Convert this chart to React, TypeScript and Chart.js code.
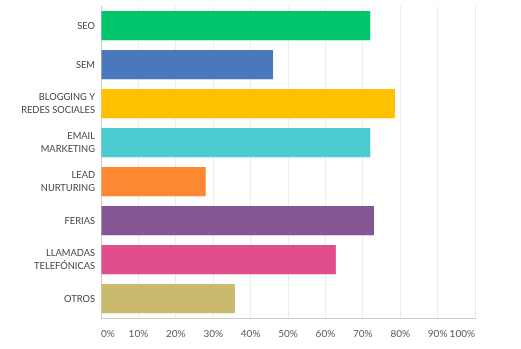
import React, { useEffect, useRef } from "react";
import { Chart, registerables } from "chart.js";

Chart.register(...registerables);

const categories: (string | string[])[] = [
  "SEO",
  "SEM",
  ["BLOGGING Y", "REDES SOCIALES"],
  ["EMAIL", "MARKETING"],
  ["LEAD", "NURTURING"],
  "FERIAS",
  ["LLAMADAS", "TELEFÓNICAS"],
  "OTROS",
];
const values = [72, 46, 78.6, 72, 28, 73, 62.8, 35.8];
const colors = ["#00c66b", "#4a78bc", "#ffc000", "#4ccbd0", "#ff8833", "#855694", "#e04e8c", "#c9ba6e"];
const xTicks = [0, 10, 20, 30, 40, 50, 60, 70, 80, 90, 100];

export default function App() {
  const ref = useRef<HTMLCanvasElement>(null);
  useEffect(() => {
    if (!ref.current) return;
    const chart = new Chart(ref.current, {
      type: "bar",
      data: {
        labels: categories,
        datasets: [
          {
            data: values,
            backgroundColor: colors,
            borderWidth: 0,
            categoryPercentage: 1,
            barPercentage: 0.75,
          },
        ],
      },
      options: {
        indexAxis: "y",
        animation: false,
        responsive: false,
        maintainAspectRatio: false,
        layout: { padding: { top: 6, right: 46, bottom: 0, left: 0 } },
        plugins: { legend: { display: false }, tooltip: { enabled: false } },
        scales: {
          x: {
            min: 0,
            max: 100,
            afterBuildTicks: (s: any) => {
              s.ticks = xTicks.map((v) => ({ value: v }));
            },
            afterFit: (s: any) => {
              s.height = 31;
            },
            grid: { color: "#ececec", drawTicks: false, lineWidth: 1 },
            border: { display: true, color: "#cccccc" },
            ticks: {
              align: "inner",
              padding: 10,
              color: "#555a60",
              font: { family: "Lato", size: 10 },
              callback: (v: any) => v + "%",
              maxRotation: 0,
              autoSkip: false,
            },
          },
          y: {
            afterFit: (s: any) => {
              s.width = 101;
              s.paddingTop = 0;
              s.paddingBottom = 0;
            },
            grid: { display: false, drawTicks: false },
            border: { display: true, color: "#cccccc" },
            ticks: {
              padding: 6,
              color: "#40454b",
              font: { family: "Lato", size: 9.3, lineHeight: 1.3 },
              autoSkip: false,
            },
          },
        },
      },
    });
    return () => chart.destroy();
  }, []);
  return (
    <div style={{ position: "fixed", left: 0, top: 0, width: 521, height: 349, background: "#fff" }}>
      <canvas ref={ref} width={521} height={349} style={{ display: "block" }} />
    </div>
  );
}
